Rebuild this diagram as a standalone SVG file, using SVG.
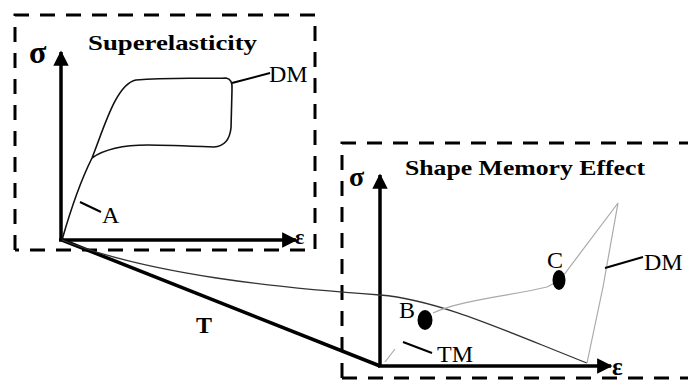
<svg xmlns="http://www.w3.org/2000/svg" width="688" height="385" viewBox="0 0 688 385">
<style>
.box{fill:none;stroke:#000;stroke-width:3;stroke-dasharray:15 11}
.axis{fill:none;stroke:#000;stroke-width:3.5}
.curve{fill:none;stroke:#111;stroke-width:1.6}
.thin{fill:none;stroke:#333;stroke-width:1.3}
.light{fill:none;stroke:#aaa;stroke-width:1.2}
.lead{fill:none;stroke:#000;stroke-width:2}
.title{font-family:"Liberation Serif",serif;font-weight:bold;font-size:22px;fill:#000}
.lbl{font-family:"Liberation Serif",serif;font-size:24px;fill:#000}
.sym{font-family:"Liberation Serif",serif;font-weight:bold;fill:#000}
</style>
<defs>
<marker id="ah" viewBox="0 0 10 10" refX="9" refY="5" markerWidth="4.4" markerHeight="4.4" orient="auto" markerUnits="strokeWidth">
<path d="M0,0 L10,5 L0,10 z" fill="#000"/>
</marker>
</defs>
<rect width="688" height="385" fill="#fff"/>
<g id="superelasticity-box">
<path class="box" d="M15,250 L15,15 L315,15 L315,250 L15,250"/>
<text class="title" x="88" y="50" textLength="169" lengthAdjust="spacingAndGlyphs">Superelasticity</text>
</g>
<g id="sme-box">
<path class="box" d="M342,378 L342,143 L688,143 M342,378 L688,378"/>
<text class="title" x="405" y="175" textLength="240" lengthAdjust="spacingAndGlyphs">Shape Memory Effect</text>
</g>
<g id="connectors">
<line class="axis" x1="61" y1="241" x2="61" y2="52" marker-end="url(#ah)"/>
<line class="axis" x1="59" y1="240" x2="296" y2="240" marker-end="url(#ah)"/>
<line class="axis" x1="380" y1="367" x2="380" y2="175" marker-end="url(#ah)"/>
<line class="axis" x1="378" y1="366" x2="611" y2="366" marker-end="url(#ah)"/>
<line x1="62" y1="240" x2="380" y2="366" stroke="#000" stroke-width="3.5"/>
<path class="curve" d="M62,240 C72,205 82,178 92,158 C104,128 116,84 136,80 C170,77 200,79 226,78 Q233,79 232,90 L231,128 Q229,146 214,147 C190,146 165,145 148,145 Q110,145 92,158"/>
<path class="thin" d="M62,240 C150,275 280,288 380,295 C440,300 510,333 587,363"/>
<path class="light" d="M385,362 L395,349"/>
<path class="light" d="M433,313 C460,300 510,296 547,287 L560,280 L618,203 L603,287 L587,363"/>
<line class="lead" x1="232" y1="83" x2="270" y2="73"/>
<line class="lead" x1="80" y1="202" x2="101" y2="212"/>
<line class="lead" x1="605" y1="268" x2="643" y2="257"/>
<line class="lead" x1="403" y1="342" x2="432" y2="353"/>
</g>
<g id="labels">
<text class="sym" x="29" y="63" font-size="32">σ</text>
<text class="sym" x="295" y="244" font-size="22">ε</text>
<text class="sym" x="349" y="186" font-size="28">σ</text>
<text class="sym" x="612" y="375" font-size="25">ε</text>
<text class="lbl" x="269" y="82">DM</text>
<text class="lbl" x="102" y="223">A</text>
<text class="lbl" x="644" y="270">DM</text>
<text class="lbl" x="399" y="318">B</text>
<text class="lbl" x="547" y="268">C</text>
<text class="lbl" x="437" y="362">TM</text>
<text class="lbl" x="196" y="333" font-weight="bold" font-size="25">T</text>
</g>
<g id="point-B"><ellipse cx="425" cy="320" rx="7.5" ry="10" fill="#000"/></g>
<g id="point-C"><ellipse cx="559" cy="280" rx="6.5" ry="10" fill="#000"/></g>
</svg>
